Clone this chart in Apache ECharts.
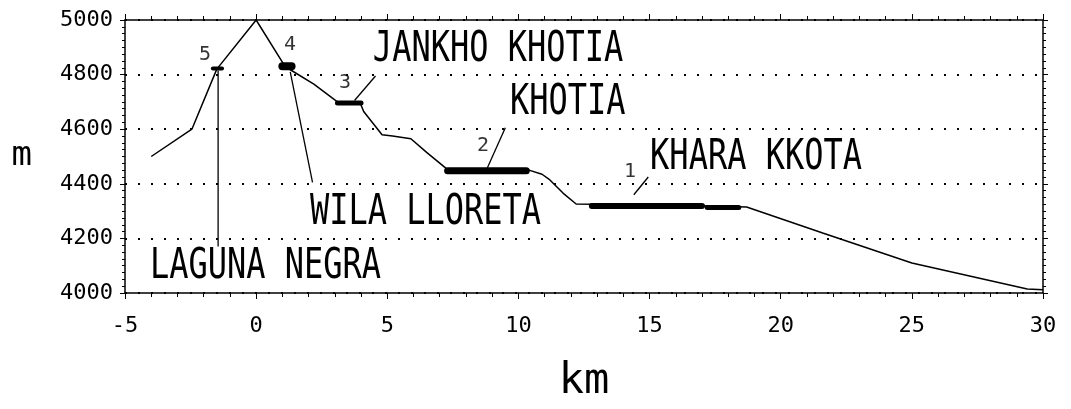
<!DOCTYPE html>
<html>
<head>
<meta charset="utf-8">
<script src="https://cdn.jsdelivr.net/npm/echarts@6/dist/echarts.min.js"></script>
<style>
  html, body { margin: 0; padding: 0; background: #fff; }
  #main { width: 1071px; height: 409px; }
</style>
</head>
<body>
<div id="main"></div>
<script>
// elevation profile (km, m)
var profileKm = [-4.0, -2.45, -1.5, 0.0, 1.1, 1.35, 2.2, 3.1, 3.95, 4.1, 4.8, 5.2, 5.9, 6.5, 7.3, 10.4, 10.9, 11.2, 11.7, 12.2, 17.0, 18.7, 21.6, 25.0, 29.4, 30.0];
var profileM  = [4500, 4600, 4820, 5000, 4830, 4815, 4765, 4700, 4700, 4665, 4580, 4575, 4565, 4515, 4452, 4450, 4435, 4414, 4366, 4326, 4320, 4315, 4220, 4110, 4015, 4012];

// site pads drawn as thick marks on the profile
var padFromKm = [-1.65, 1.0, 3.1, 7.3, 12.8, 17.2];
var padToKm   = [-1.3, 1.35, 4.0, 10.3, 17.0, 18.4];
var padM      = [4822, 4831, 4696, 4448, 4319, 4313];

// leader lines from site to its name
var leaderFromKm = [-1.45, 1.3, 3.75, 8.8, 14.4];
var leaderFromM  = [4815, 4810, 4705, 4455, 4360];
var leaderToKm   = [-1.45, 2.15, 4.55, 9.5, 14.95];
var leaderToM    = [4170, 4405, 4795, 4605, 4425];

// site numbers
var siteNo   = ['5', '4', '3', '2', '1'];
var siteNoKm = [-1.95, 1.29, 3.39, 8.65, 14.25];
var siteNoM  = [4872, 4908, 4769, 4538, 4443];

// site names (left edge, middle height)
var siteName   = ['LAGUNA NEGRA', 'WILA LLORETA', 'JANKHO KHOTIA', 'KHOTIA', 'KHARA KKOTA'];
var siteNameKm = [-4.05, 2.05, 4.45, 9.68, 15.02];
var siteNameM  = [4095, 4293, 4890, 4696, 4495];

var padThickness = [4, 8, 5, 7, 6, 5];
var FONT = '"DejaVu Sans Mono", monospace';

var myChart = echarts.init(document.getElementById('main'));

var series = [];
series.push({
    type: 'line',
    data: profileKm.map(function (k, i) { return [k, profileM[i]]; }),
    showSymbol: false,
    lineStyle: { color: '#000', width: 1.5 },
    silent: true
});
padFromKm.forEach(function (k, i) {
    series.push({
        type: 'line',
        data: [[k, padM[i]], [padToKm[i], padM[i]]],
        showSymbol: false,
        lineStyle: { color: '#000', width: padThickness[i], cap: 'round' },
        silent: true
    });
});
leaderFromKm.forEach(function (k, i) {
    series.push({
        type: 'line',
        data: [[k, leaderFromM[i]], [leaderToKm[i], leaderToM[i]]],
        showSymbol: false,
        lineStyle: { color: '#000', width: 1.3 },
        silent: true
    });
});
series.push({
    type: 'scatter',
    symbolSize: 0,
    data: siteNoKm.map(function (k, i) { return [k, siteNoM[i], siteNo[i]]; }),
    label: {
        show: true,
        position: 'inside',
        formatter: function (p) { return p.value[2]; },
        color: '#000',
        fontFamily: FONT,
        fontSize: 20
    },
    silent: true
});

var plain = function (v) { return String(v); };

option = {
    animation: false,
    backgroundColor: '#fff',
    grid: { left: 125, right: 28, top: 20, bottom: 116 },
    xAxis: [{
        type: 'value',
        min: -5, max: 30, interval: 5,
        name: 'km',
        nameLocation: 'middle',
        nameGap: 68,
        nameTextStyle: { color: '#000', fontFamily: FONT, fontSize: 42 },
        axisLine: { onZero: false, lineStyle: { color: '#000', width: 1.5 } },
        axisTick: { show: true, length: 6, lineStyle: { color: '#000' } },
        minorTick: { show: true, splitNumber: 5, length: 4, lineStyle: { color: '#000' } },
        axisLabel: { color: '#000', fontFamily: FONT, fontSize: 22, margin: 22, formatter: plain },
        splitLine: { show: false }
    }, {
        type: 'value',
        position: 'top',
        min: -5, max: 30, interval: 5,
        axisLine: { onZero: false, lineStyle: { color: '#000', width: 1.5 } },
        axisTick: { show: true, length: 6, lineStyle: { color: '#000' } },
        minorTick: { show: true, splitNumber: 5, length: 4, lineStyle: { color: '#000' } },
        axisLabel: { show: false },
        splitLine: { show: false }
    }],
    yAxis: [{
        type: 'value',
        min: 4000, max: 5000, interval: 200,
        name: 'm',
        nameLocation: 'middle',
        nameRotate: 0,
        nameGap: 93,
        nameTextStyle: { color: '#000', fontFamily: FONT, fontSize: 34 },
        axisLine: { show: true, onZero: false, lineStyle: { color: '#000', width: 1.5 } },
        axisTick: { show: true, length: 5, lineStyle: { color: '#000' } },
        minorTick: { show: true, splitNumber: 8, length: 3, lineStyle: { color: '#000' } },
        axisLabel: { color: '#000', fontFamily: FONT, fontSize: 22, margin: 12, formatter: plain },
        splitLine: { show: true, lineStyle: { color: '#000', width: 2, type: [2, 11] } }
    }, {
        type: 'value',
        position: 'right',
        min: 4000, max: 5000, interval: 200,
        axisLine: { show: true, onZero: false, lineStyle: { color: '#000', width: 1.5 } },
        axisTick: { show: true, length: 5, lineStyle: { color: '#000' } },
        minorTick: { show: true, splitNumber: 8, length: 3, lineStyle: { color: '#000' } },
        axisLabel: { show: false },
        splitLine: { show: false }
    }],
    series: series
};
myChart.setOption(option);

// site names, placed through the chart's own scales
var names = siteName.map(function (t, i) {
    var p = myChart.convertToPixel({ seriesIndex: 0 }, [siteNameKm[i], siteNameM[i]]);
    return {
        type: 'text',
        x: p[0], y: p[1],
        scaleY: 1.35,
        silent: true,
        style: {
            text: t,
            fill: '#000',
            font: '32px ' + FONT,
            textAlign: 'left',
            textVerticalAlign: 'middle'
        }
    };
});
myChart.setOption({ graphic: names });
</script>
</body>
</html>
